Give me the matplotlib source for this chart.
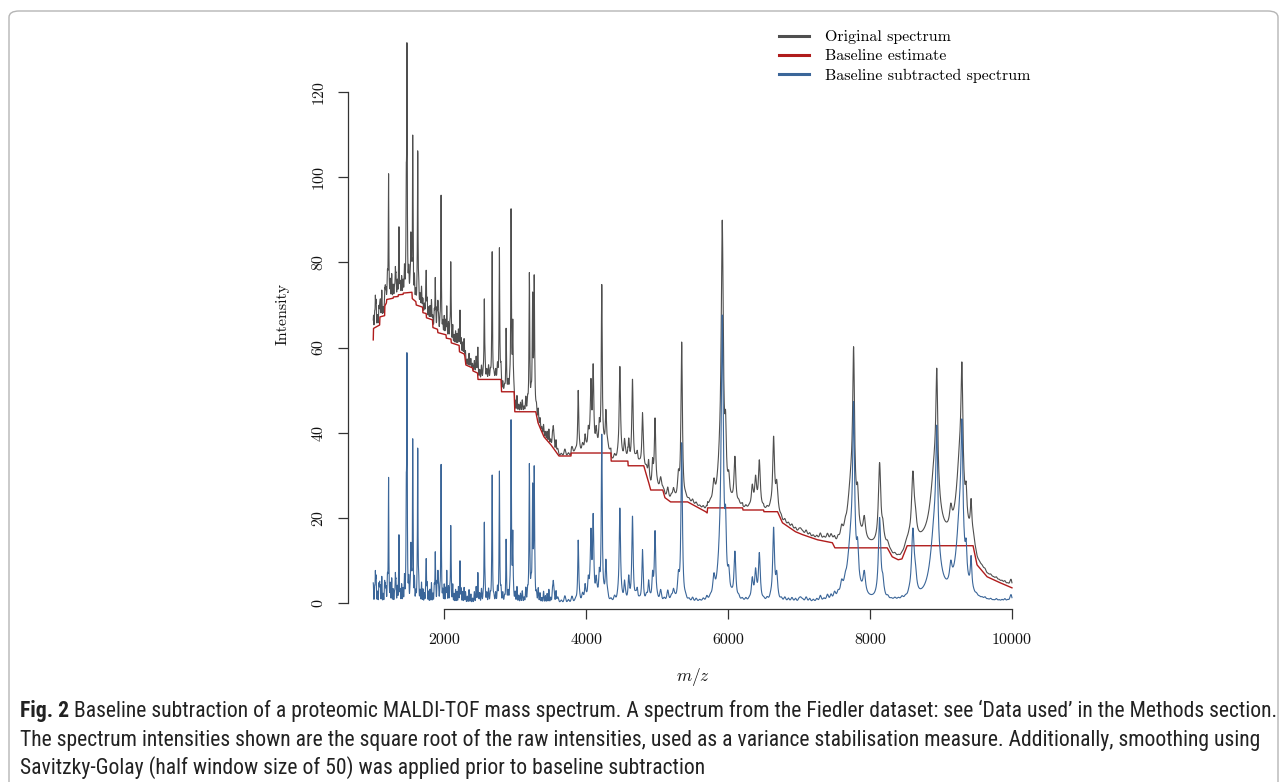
import numpy as np
import matplotlib
matplotlib.use('Agg')
import matplotlib.pyplot as plt
from matplotlib.patches import FancyBboxPatch
from matplotlib.lines import Line2D
from matplotlib import font_manager

## data (m/z, sqrt intensity)
# baseline estimate knots (step-like)
bl_mz = [1000, 1004, 1090, 1094, 1160, 1164, 1185, 1190, 1280, 1284, 1350, 1354,
         1420, 1424, 1545, 1550, 1600, 1606, 1695, 1700, 1745, 1750, 1835, 1841,
         1905, 1911, 2025, 2030, 2095, 2100, 2210, 2215, 2280, 2290, 2305, 2400,
         2405, 2470, 2476, 2800, 2808, 2985, 2995, 3290, 3322, 3364, 3406, 3505,
         3617, 3786, 3790, 4349, 4353, 4588, 4592, 4812, 4850, 4882, 4910, 5080,
         5110, 5190, 5430, 5684, 5705, 5712, 6205, 6210, 6500, 6505, 6697, 6766,
         6949, 7050, 7259, 7469, 7505, 8243, 8313, 8397, 8450, 8524, 9452, 9508,
         9650, 9832, 10000]
bl_val = [61.8, 64.5, 65.3, 67.2, 67.5, 69.8, 70.5, 71.3, 71.6, 71.9, 72.0, 72.4,
          72.5, 72.8, 73.0, 71.5, 70.8, 70.0, 69.5, 68.2, 68.0, 67.0, 66.5, 64.7,
          64.3, 63.5, 63.0, 62.2, 62.0, 61.1, 60.5, 59.0, 58.5, 58.0, 55.9, 55.2,
          54.5, 54.0, 52.5, 52.5, 49.6, 49.6, 44.9, 44.9, 42.3, 40.6, 39.0, 37.1,
          34.5, 34.5, 35.2, 35.2, 33.3, 33.3, 32.2, 32.2, 30.0, 28.2, 26.5, 26.5,
          24.7, 23.7, 23.7, 21.4, 21.1, 22.3, 22.3, 21.8, 21.8, 21.4, 21.4, 18.8,
          16.7, 16.0, 14.8, 14.1, 12.9, 12.9, 10.8, 10.1, 10.3, 13.4, 13.4, 8.9,
          6.1, 4.7, 3.5]

# peaks of the baseline subtracted spectrum: centre, height, full width
peak_mz = [1030, 1090, 1170, 1215, 1311, 1363, 1466, 1475, 1530, 1556, 1627, 1747,
           1873, 1911, 1955, 2035, 2092, 2223, 2474, 2565, 2675, 2778, 2872, 2942,
           2966, 3200, 3245, 3268, 3537, 3888, 3985, 4030, 4067, 4099, 4140, 4185,
           4220, 4278, 4475, 4540, 4600, 4653, 4720, 4794, 4880, 4935, 4971, 5050,
           5150, 5230, 5300, 5346, 5800, 5880, 5918, 5965, 6010, 6096, 6340, 6387,
           6440, 6641, 6685, 6800, 6900, 7022, 7100, 7300, 7400, 7500, 7600, 7740,
           7769, 7825, 7919, 8135, 8180, 8604, 8640, 8915, 8941, 9138, 9270, 9295,
           9354, 9424, 9990]
peak_height = [7.0, 4.5, 4.0, 29.5, 6.5, 12.0, 20.5, 56.5, 12.5, 36.0, 37.0, 9.5,
               11.5, 7.0, 32.0, 6.5, 17.5, 8.5, 5.5, 19.0, 28.5, 29.5, 12.0, 41.5,
               15.0, 30.5, 25.5, 29.5, 5.0, 14.0, 3.5, 4.5, 15.0, 18.5, 3.5, 5.5,
               38.5, 9.0, 22.0, 3.5, 4.5, 19.5, 2.5, 11.5, 4.5, 5.5, 16.2, 1.5,
               2.0, 2.5, 4.5, 36.0, 4.0, 6.0, 64.0, 13.0, 4.5, 10.5, 4.5, 6.5,
               10.5, 16.5, 5.5, 0.5, 0.6, 1.0, 0.5, 0.5, 0.6, 0.8, 1.8, 15.0,
               34.0, 7.0, 5.0, 19.0, 3.0, 15.5, 3.5, 18.0, 25.0, 4.5, 20.0, 25.0,
               6.0, 7.5, 1.0]
peak_fwhm = [8, 8, 8, 8, 8, 8, 8, 8, 8, 8, 8, 8,
             8, 8, 8, 8, 8, 8, 10, 10, 10, 10, 10, 10,
             10, 12, 12, 12, 16, 16, 20, 20, 20, 20, 20, 20,
             16, 20, 22, 20, 20, 22, 20, 20, 20, 20, 22, 30,
             30, 30, 30, 24, 40, 60, 36, 25, 30, 30, 30, 30,
             30, 30, 30, 40, 40, 40, 40, 40, 40, 40, 50, 130,
             30, 30, 40, 40, 30, 45, 40, 140, 30, 40, 120, 30,
             25, 25, 30]

# low level noise ("grass") heights, by region
grass_a = [4.5, 3.0, 5.5, 2.5, 4.0, 3.5, 6.0, 2.0, 4.5, 3.0, 5.0, 2.5, 4.0, 5.5, 3.0,
           2.0, 4.5, 3.5, 5.0, 2.5, 4.0, 3.0, 5.5, 2.0, 3.5, 4.5, 2.5, 4.0, 3.0, 5.0,
           2.0, 3.5, 4.0, 2.5, 4.5, 3.0, 2.0, 3.5, 4.0, 2.5, 3.0, 4.5, 2.0, 3.5, 2.5,
           4.0, 3.0, 2.0, 3.5, 2.5, 4.0, 3.0, 2.0, 3.5, 2.5, 3.0, 4.0, 2.0, 3.0, 2.5,
           3.5, 2.0, 3.0, 2.5, 3.5]
grass_b = [2.5, 1.5, 3.0, 2.0, 1.0, 2.5, 3.5, 1.5, 2.0, 3.0, 1.0, 2.5, 2.0, 3.0, 1.5,
           2.5, 1.0, 2.0, 3.0, 1.5, 2.5, 2.0, 1.0, 3.0, 2.0, 1.5, 2.5, 1.0, 2.0, 3.5,
           1.5, 2.0, 2.5, 1.0, 3.0, 2.0, 1.5, 2.5, 1.0, 2.0, 1.5, 3.0, 2.0, 1.0, 2.5,
           1.5, 2.0, 3.0, 1.0, 2.0, 1.5, 2.5]
grass_c = [1.2, 0.5, 1.5, 0.6, 1.3, 0.4, 0.9, 1.6, 0.5, 1.1, 0.6, 1.3, 0.3, 0.8, 1.4,
           0.5, 1.0, 0.6, 0.4, 1.2, 0.8, 0.5, 1.0, 0.3, 0.6, 1.2, 0.5, 0.8, 0.4, 1.0,
           0.6, 0.5, 0.8, 0.3, 0.6, 1.0, 0.5, 0.4, 0.8, 0.6, 0.3, 0.5, 0.8, 0.4, 0.6,
           0.5, 0.3, 0.6, 0.4, 0.3, 0.5, 0.6, 0.4, 0.5, 0.3, 0.6, 0.4, 0.6, 0.3, 0.5,
           0.4, 0.6, 0.3, 0.5, 0.4, 0.6, 0.3, 0.6, 0.4, 0.3, 0.5, 0.6, 0.4, 0.5, 0.7,
           0.4, 0.6, 0.9, 0.5, 0.7, 0.6, 0.9]
grass_d = [0.3, 0.5, 0.2, 0.4, 0.3, 0.5, 0.3, 0.4]
grass_e = [0.2, 0.4, 0.2, 0.3, 0.5, 0.2, 0.4, 0.2, 0.5, 0.3, 0.4, 0.6, 0.4, 0.8]
# (heights, start m/z, spacing, width) for each grass region
grass_regions = [(grass_a, 1000, 20, 10), (grass_b, 2300, 25, 12), (grass_c, 3600, 50, 25),
                 (grass_d, 8200, 50, 30), (grass_e, 9460, 40, 30)]

x_ticks = [2000, 4000, 6000, 8000, 10000]
y_ticks = [0, 20, 40, 60, 80, 100, 120]
legend_labels = ['Original spectrum', 'Baseline estimate', 'Baseline subtracted spectrum']

caption_bold = 'Fig. 2'
caption_lines = [
    'Baseline subtraction of a proteomic MALDI-TOF mass spectrum. A spectrum from the Fiedler dataset: see \u2018Data used\u2019 in the Methods section.',
    'The spectrum intensities shown are the square root of the raw intensities, used as a variance stabilisation measure. Additionally, smoothing using',
    'Savitzky-Golay (half window size of 50) was applied prior to baseline subtraction',
]

col_orig = '#4f4f4f'
col_base = '#b01c1c'
col_sub = '#3b6699'


def lorentz(x, c, h, w):
    return h / (1.0 + ((x - c) / (w / 2.0)) ** 2)


def gauss(x, c, h, w):
    s = w / 2.3548
    return h * np.exp(-0.5 * ((x - c) / s) ** 2)


mz = np.arange(1000, 10000.1, 2.0)
subtracted = np.zeros_like(mz)
for c, h, w in zip(peak_mz, peak_height, peak_fwhm):
    subtracted += lorentz(mz, c, h, w)
for heights, start, step, w in grass_regions:
    for i, h in enumerate(heights):
        subtracted += gauss(mz, start + i * step, h, w)
baseline = np.interp(mz, bl_mz, bl_val)
original = baseline + subtracted

plt.rcParams['font.family'] = 'cmr10'
plt.rcParams['mathtext.fontset'] = 'cm'
plt.rcParams['axes.formatter.use_mathtext'] = True

W, H = 1286, 782
fig = plt.figure(figsize=(W / 100, H / 100), dpi=100)

# frame around figure + caption
frame = FancyBboxPatch((9 / W, -0.05), (1278 - 9) / W, 0.05 + (782 - 11) / H,
                       boxstyle='round,pad=0,rounding_size=0.008',
                       transform=fig.transFigure, facecolor='none',
                       edgecolor='#b5b5b5', linewidth=1.0)
fig.patches.append(frame)

ax_left, ax_right = 347.7, 1037.5
ax_bot, ax_top = 609.3, 18.8
ax = fig.add_axes([ax_left / W, 1 - ax_bot / H, (ax_right - ax_left) / W, (ax_bot - ax_top) / H])

ax.plot(mz, original, color=col_orig, lw=0.8)
ax.plot(bl_mz, bl_val, color=col_base, lw=1.0)
ax.plot(mz, subtracted, color=col_sub, lw=0.8)

ax.set_xlim(640, 10360)
ax.set_ylim(-1.55, 137.3)
for s in ['top', 'right']:
    ax.spines[s].set_visible(False)
ax.spines['left'].set_bounds(0, 120)
ax.spines['bottom'].set_bounds(2000, 10000)
for s in ['left', 'bottom']:
    ax.spines[s].set_color('#333333')
    ax.spines[s].set_linewidth(0.9)

ax.set_xticks(x_ticks)
ax.set_yticks(y_ticks)
ax.set_xticklabels([str(v) for v in x_ticks])
ax.set_yticklabels([str(v) for v in y_ticks])
ax.tick_params(axis='both', direction='out', length=7, width=0.9, color='#333333',
               labelsize=11.5, labelcolor='#111111')
ax.tick_params(axis='x', pad=10)
ax.tick_params(axis='y', pad=9, labelrotation=90)
for lab in ax.get_yticklabels():
    lab.set_va('center')

ax.set_xlabel(r'$m/z$', fontsize=12.5, color='#111111')
ax.xaxis.set_label_coords(0.5, -(677 - ax_bot) / (ax_bot - ax_top))
ax.xaxis.label.set_va('center')
ax.set_ylabel('Intensity', fontsize=11.5, color='#111111')
ax.yaxis.set_label_coords(-(ax_left - 283) / (ax_right - ax_left), 0.5)
ax.yaxis.label.set_va('center')

handles = [Line2D([], [], color=col_orig, lw=2.2),
           Line2D([], [], color=col_base, lw=2.2),
           Line2D([], [], color=col_sub, lw=2.2)]
fig.legend(handles, legend_labels, loc='upper left', bbox_to_anchor=(779 / W, 1 - 30 / H),
           frameon=False, fontsize=11.5, handlelength=1.9, handletextpad=0.95,
           labelspacing=0.32, borderpad=0, borderaxespad=0)

# caption
names = {f.name for f in font_manager.fontManager.ttflist}
cap_font = 'DejaVu Sans'
for cand in ['Liberation Sans Narrow', 'Roboto Condensed', 'Open Sans Condensed', 'Noto Sans']:
    if cand in names:
        cap_font = cand
        break

fig.canvas.draw()
renderer = fig.canvas.get_renderer()
fs = 13
x0 = 20
bold = fig.text(x0 / W, 1 - 717 / H, caption_bold, fontsize=fs, fontweight='bold',
                family=cap_font, color='#222222', va='baseline')
w_b = bold.get_window_extent(renderer).width
rest = fig.text((x0 + w_b + 4) / W, 1 - 717 / H, caption_lines[0], fontsize=fs,
                family=cap_font, color='#222222', va='baseline')
w_r = rest.get_window_extent(renderer).width
scale = (1275 - x0) / (w_b + 4 + w_r)
fs = fs * scale
bold.set_fontsize(fs)
rest.set_fontsize(fs)
w_b = bold.get_window_extent(renderer).width
rest.set_x((x0 + w_b + 4 * scale) / W)
for i, line in enumerate(caption_lines[1:]):
    fig.text(x0 / W, 1 - (746 + 28 * i) / H, line, fontsize=fs, family=cap_font,
             color='#222222', va='baseline')

fig.savefig('out.png', dpi=100)
